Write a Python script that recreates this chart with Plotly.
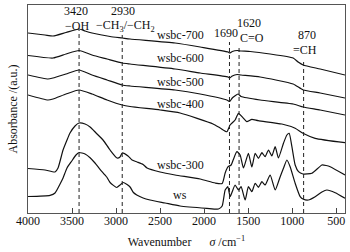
import plotly.graph_objects as go

# ---- data (wavenumber cm^-1, absorbance a.u.) ----
wn_700 = [4000, 3807, 3716, 3568, 3420, 3352, 3273, 3068, 2930, 2841, 2330, 2045, 1727, 1710, 1680, 1625, 1580, 1477, 1250, 989, 932, 875, 682, 400]
ab_700 = [1.80, 1.78, 1.77, 1.805, 1.84, 1.82, 1.80, 1.765, 1.75, 1.74, 1.70, 1.66, 1.61, 1.60, 1.615, 1.625, 1.62, 1.615, 1.59, 1.55, 1.51, 1.48, 1.44, 1.38]

wn_600 = [4000, 3716, 3568, 3420, 3273, 3102, 2930, 2841, 2330, 2045, 1727, 1710, 1680, 1625, 1580, 1364, 989, 875, 682, 400]
ab_600 = [1.575, 1.55, 1.59, 1.625, 1.58, 1.54, 1.50, 1.49, 1.44, 1.40, 1.36, 1.35, 1.37, 1.385, 1.38, 1.36, 1.29, 1.23, 1.20, 1.15]

wn_500 = [4000, 3773, 3716, 3568, 3420, 3273, 3102, 2930, 2841, 2330, 2045, 1742, 1710, 1680, 1615, 1580, 1364, 989, 875, 682, 400]
ab_500 = [1.38, 1.34, 1.35, 1.39, 1.43, 1.38, 1.33, 1.28, 1.27, 1.23, 1.19, 1.13, 1.115, 1.15, 1.19, 1.165, 1.13, 1.09, 1.06, 1.03, 0.98]

wn_400 = [4000, 3773, 3716, 3568, 3420, 3273, 3102, 2930, 2841, 2500, 2273, 1898, 1818, 1742, 1705, 1648, 1610, 1553, 1515, 1458, 1386, 1117, 966, 878, 739, 400]
ab_400 = [1.18, 1.13, 1.14, 1.19, 1.23, 1.19, 1.13, 1.08, 1.065, 1.03, 1.00, 0.89, 0.85, 0.813, 0.88, 0.93, 0.997, 0.947, 0.913, 0.937, 0.923, 0.89, 0.847, 0.797, 0.747, 0.703]

wn_300 = [4000, 3807, 3693, 3659, 3602, 3557, 3523, 3466, 3420, 3352, 3295, 3227, 3148, 3068, 2989, 2955, 2930, 2864, 2818, 2761, 2693, 2648, 2500, 2330, 2045, 1875, 1795, 1761, 1727, 1693, 1670, 1628, 1591, 1553, 1497, 1458, 1420, 1383, 1344, 1307, 1269, 1231, 1193, 1156, 1099, 1060, 1034, 1003, 966, 928, 878, 776, 662, 614, 568, 400]
ab_300 = [0.445, 0.43, 0.41, 0.45, 0.63, 0.73, 0.80, 0.87, 0.90, 0.89, 0.86, 0.80, 0.73, 0.63, 0.55, 0.56, 0.60, 0.57, 0.53, 0.51, 0.485, 0.45, 0.41, 0.38, 0.34, 0.30, 0.295, 0.40, 0.463, 0.48, 0.53, 0.613, 0.58, 0.45, 0.597, 0.46, 0.597, 0.547, 0.603, 0.563, 0.63, 0.57, 0.663, 0.55, 0.697, 0.78, 0.797, 0.663, 0.48, 0.413, 0.39, 0.397, 0.48, 0.475, 0.463, 0.38]

wn_ws = [4000, 3750, 3693, 3636, 3602, 3557, 3503, 3455, 3420, 3352, 3295, 3239, 3182, 3106, 3068, 2992, 2955, 2920, 2875, 2841, 2803, 2765, 2693, 2614, 2443, 2273, 1969, 1837, 1795, 1761, 1731, 1705, 1682, 1648, 1610, 1580, 1534, 1497, 1458, 1420, 1383, 1344, 1307, 1250, 1193, 1136, 1099, 1060, 1023, 966, 909, 872, 815, 739, 662, 606, 511, 400]
ab_ws = [0.165, 0.177, 0.20, 0.29, 0.35, 0.45, 0.52, 0.58, 0.605, 0.59, 0.553, 0.50, 0.437, 0.36, 0.305, 0.255, 0.28, 0.305, 0.285, 0.26, 0.205, 0.18, 0.15, 0.13, 0.10, 0.07, 0.047, 0.04, 0.07, 0.23, 0.263, 0.163, 0.21, 0.28, 0.23, 0.263, 0.13, 0.263, 0.213, 0.297, 0.257, 0.313, 0.28, 0.38, 0.23, 0.363, 0.447, 0.53, 0.463, 0.297, 0.163, 0.137, 0.13, 0.163, 0.21, 0.23, 0.203, 0.147]

series_names = ["wsbc-700", "wsbc-600", "wsbc-500", "wsbc-400", "wsbc-300", "ws"]
series_wn = [wn_700, wn_600, wn_500, wn_400, wn_300, wn_ws]
series_ab = [ab_700, ab_600, ab_500, ab_400, ab_300, ab_ws]

# curve label positions
label_wn = [2273, 2273, 2273, 2273, 2273, 2273]
label_ab = [1.785, 1.55, 1.31, 1.09, 0.48, 0.18]

# characteristic peaks (dashed guides, positions as drawn)
peak_wn = [3420, 2930, 1712, 1603, 870]
peak_top = [1.83, 1.78, 1.71, 1.68, 1.51]

# peak annotations: text, wavenumber, height
peak_text = ["3420", "−OH", "2930", "−CH<sub>3</sub>/−CH<sub>2</sub>", "1690", "1620", "C=O", "870", "=CH"]
peak_text_wn = [3460, 3443, 2926, 2898, 1755, 1494, 1455, 835, 858]
peak_text_ab = [2.025, 1.875, 2.025, 1.875, 1.80, 1.905, 1.755, 1.78, 1.63]

tick_vals = [4000, 3500, 3000, 2500, 2000, 1500, 1000, 500]

FONT = "Liberation Serif, Times New Roman, serif"

fig = go.Figure()
for name, xs, ys in zip(series_names, series_wn, series_ab):
    fig.add_trace(go.Scatter(x=xs, y=ys, mode="lines", name=name,
                             line=dict(color="#111", width=1.2, shape="spline", smoothing=0.5),
                             showlegend=False, hoverinfo="skip"))

for w, top in zip(peak_wn, peak_top):
    fig.add_shape(type="line", xref="x", yref="y", x0=w, x1=w, y0=0, y1=top,
                  line=dict(color="#222", width=1, dash="4px,3px"))

for name, w, a in zip(series_names, label_wn, label_ab):
    fig.add_annotation(x=w, y=a, text=name, showarrow=False,
                       font=dict(family=FONT, size=12, color="#111"))

for t, w, a in zip(peak_text, peak_text_wn, peak_text_ab):
    fig.add_annotation(x=w, y=a, text=t, showarrow=False,
                       font=dict(family=FONT, size=12, color="#111"))

fig.update_layout(
    width=350, height=252,
    margin=dict(l=28, r=5, t=5, b=39),
    paper_bgcolor="white", plot_bgcolor="white",
    font=dict(family=FONT, size=12, color="#111"),
    xaxis=dict(range=[4000, 400], tickvals=tick_vals, ticks="inside", ticklen=5,
               tickcolor="#444", showgrid=False, zeroline=False, showline=True,
               linecolor="#555", linewidth=1, mirror=True, ticklabelstandoff=-3,
               tickfont=dict(family=FONT, size=12, color="#111"),
               title=dict(text="Wavenumber      <i>σ</i> /cm<sup>−1</sup>", standoff=10,
                          font=dict(family=FONT, size=12, color="#111"))),
    yaxis=dict(range=[0, 2.08], showticklabels=False, ticks="", showgrid=False,
               zeroline=False, showline=True, linecolor="#555", linewidth=1, mirror=True,
               title=dict(text="Absorbance /(a.u.)", standoff=6,
                          font=dict(family=FONT, size=12, color="#111"))),
)

fig.write_html("out.html", config={"displayModeBar": False},
               post_script="document.body.style.margin='0';document.body.style.padding='0';")
